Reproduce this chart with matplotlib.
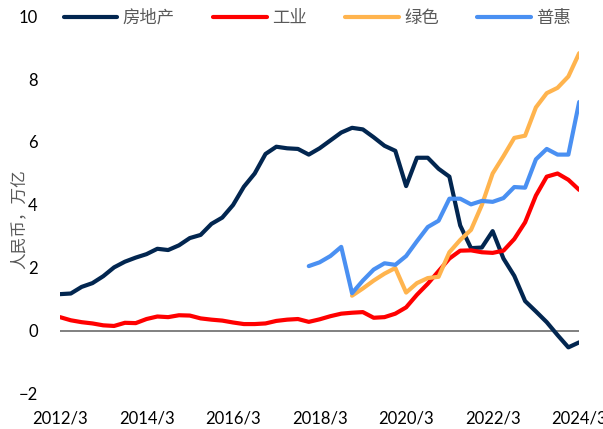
import numpy as np
import matplotlib
matplotlib.use("Agg")
import matplotlib.pyplot as plt

plt.rcParams['font.family'] = ['Lato', 'Noto Sans CJK SC', 'DejaVu Sans']

# quarterly, 2012/3 .. 2024/3 (49 points)
quarters = [f"{y}/{m}" for y in range(2012, 2025) for m in (3, 6, 9, 12)][:49]

real_estate = [1.17, 1.19, 1.40, 1.52, 1.74, 2.02, 2.20, 2.33, 2.44, 2.61,
               2.57, 2.72, 2.95, 3.05, 3.40, 3.60, 4.00, 4.58, 5.00, 5.62,
               5.85, 5.80, 5.78, 5.60, 5.80, 6.05, 6.30, 6.45, 6.40, 6.15,
               5.88, 5.72, 4.60, 5.50, 5.50, 5.15, 4.90, 3.35, 2.63, 2.65,
               3.17, 2.30, 1.75, 0.95, 0.62, 0.28, -0.13, -0.52, -0.36]
industry = [0.44, 0.34, 0.28, 0.24, 0.18, 0.16, 0.26, 0.25, 0.38, 0.46,
            0.44, 0.50, 0.49, 0.40, 0.36, 0.33, 0.27, 0.22, 0.22, 0.24,
            0.32, 0.36, 0.38, 0.29, 0.37, 0.47, 0.55, 0.58, 0.60, 0.42,
            0.44, 0.55, 0.75, 1.15, 1.50, 1.90, 2.30, 2.55, 2.56, 2.50,
            2.48, 2.55, 2.92, 3.45, 4.30, 4.90, 5.00, 4.80, 4.48]
green = [np.nan] * 27 + [1.12, 1.35, 1.60, 1.82, 2.00, 1.22, 1.52, 1.68,
                         1.72, 2.50, 2.89, 3.21, 4.00, 5.00, 5.55, 6.13,
                         6.20, 7.10, 7.55, 7.72, 8.08, 8.82]
inclusive = [np.nan] * 23 + [2.06, 2.18, 2.38, 2.67, 1.20, 1.60, 1.95, 2.15,
                             2.10, 2.38, 2.85, 3.30, 3.50, 4.20, 4.20, 4.02,
                             4.13, 4.10, 4.22, 4.57, 4.55, 5.45, 5.78, 5.60,
                             5.60, 7.27]

names = ['房地产', '工业', '绿色', '普惠']
colors = ['#022650', '#FF0000', '#FFB44E', '#4A90F2']
series = [real_estate, industry, green, inclusive]

fig = plt.figure(figsize=(6.03, 4.29), dpi=100)
ax = fig.add_axes([0.0995, 0.0816, 0.861, 0.8811])

x = np.arange(len(quarters))
for i, (name, vals, c) in enumerate(zip(names, series, colors)):
    ax.plot(x, vals, color=c, lw=3, label=name, zorder=3 + i,
            solid_joinstyle='round', solid_capstyle='round')

ax.axhline(0, color='#6b6b6b', lw=1.2, zorder=2)

ax.set_xlim(0, len(quarters) - 1)
ax.set_ylim(-2, 10)
ax.set_yticks(range(-2, 11, 2))
ax.set_xticks(x[::8])
ax.set_xticklabels(quarters[::8])
ax.tick_params(axis='both', length=0, labelsize=12, colors='black')
ax.tick_params(axis='x', pad=12)
ax.tick_params(axis='y', pad=16)
for s in ax.spines.values():
    s.set_visible(False)

ax.set_ylabel('人民币，万亿', fontsize=12, color='#595959',
              family=['Noto Sans CJK SC', 'DejaVu Sans'])
ax.yaxis.set_label_coords(-0.062, 0.463)

fig.legend(loc='center', bbox_to_anchor=(0.526, 0.959), ncol=4, frameon=False,
           prop={'family': 'Noto Sans CJK SC', 'size': 12.5},
           labelcolor='#595959', handlelength=3.1, handletextpad=0.3,
           columnspacing=2.2)

fig.savefig('out.png', dpi=100)
